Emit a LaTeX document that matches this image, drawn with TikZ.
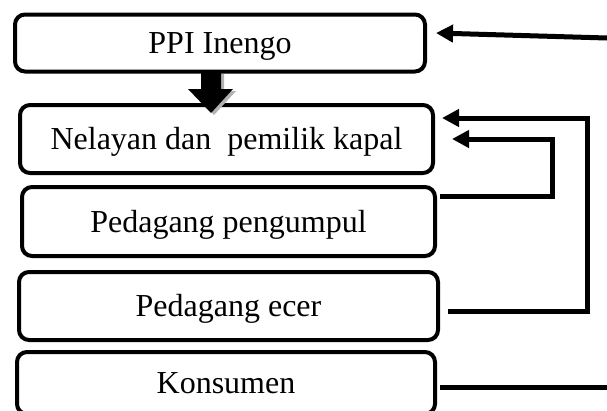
\documentclass[tikz,border=0pt]{standalone}
\usepackage{fontspec}
\setmainfont{Liberation Serif}
\usetikzlibrary{arrows.meta}
\begin{document}
\begin{tikzpicture}[x=1pt,y=-1pt,
  box/.style={draw,line width=4pt,rounded corners=10pt,inner sep=0pt,
    text height=21pt,text depth=0pt,
    font=\fontsize{32}{38}\selectfont},
  conn/.style={line width=5pt,miter limit=10},
  tip/.style={-{Triangle[length=17pt,width=17pt]}}]
\useasboundingbox (0,0) rectangle (607,410);
\node[box,minimum width=410pt,minimum height=57pt] (b1) at (220,43) {PPI Inengo};
\node[box,minimum width=413pt,minimum height=68pt] (b2) at (226.5,139) {Nelayan dan\ \ pemilik kapal};
\node[box,minimum width=413pt,minimum height=69pt] (b3) at (228.5,221.5) {Pedagang pengumpul};
\node[box,minimum width=419pt,minimum height=68pt] (b4) at (228.5,306) {Pedagang ecer};
\node[box,minimum width=418pt,minimum height=62pt] (b5) at (226,383) {Konsumen};
% block arrow between b1 and b2
\fill[gray!60] (204,74) -- (224,74) -- (224,91) -- (236,91) -- (214,115) -- (191,91) -- (204,91) -- cycle;
\fill[black] (201,71) -- (221,71) -- (221,89) -- (233,89) -- (211,113) -- (188,89) -- (201,89) -- cycle;
% connectors
\coordinate (rtop) at (607,38);
\coordinate (rbot) at (607,387);
\draw[conn,tip] (rtop) -- ([xshift=9pt,yshift=10pt]b1.east);
\draw[conn] ([xshift=3pt,yshift=-4pt]b5.east) -- (rbot);
\draw[conn,tip] ([xshift=8pt,yshift=-5pt]b4.east) -- (587,311) -- (587,118) -- ([xshift=7pt,yshift=21pt]b2.east);
\draw[conn,tip] ([xshift=3pt,yshift=25.5pt]b3.east) -- (552,196) -- (552,139) -- ([xshift=17pt]b2.east);
\end{tikzpicture}
\end{document}
